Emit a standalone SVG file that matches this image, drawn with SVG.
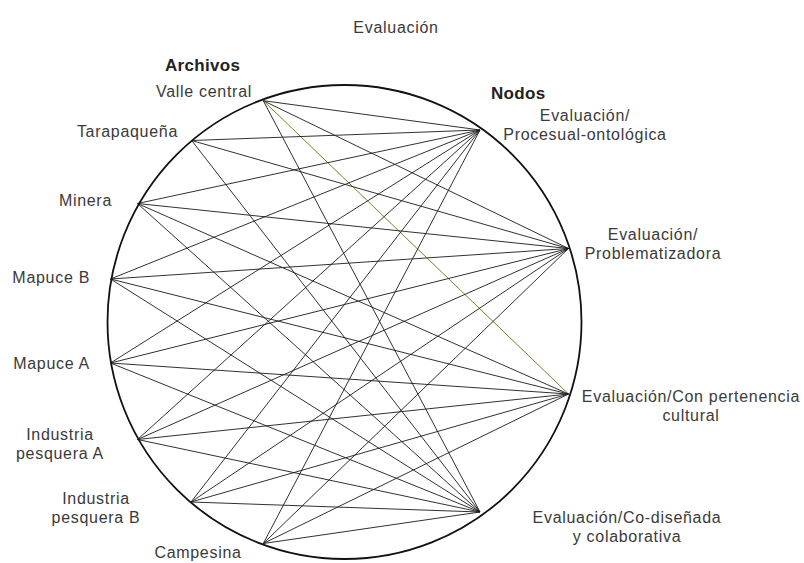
<svg xmlns="http://www.w3.org/2000/svg" width="804" height="563" viewBox="0 0 804 563">
<style>
text{font-family:"Liberation Sans",Arial,sans-serif;font-size:16px;fill:#3a3a3a;letter-spacing:0.7px}
.h{font-size:17px;font-weight:bold;fill:#222;letter-spacing:0.3px}
.m{text-anchor:middle}
.e{text-anchor:end}
#edges line{stroke:#1a1a1a;stroke-width:0.9}
#edges line.olive{stroke:#7a6a10}
</style>
<rect width="804" height="563" fill="#fff"/>
<text class="m" x="396" y="33">Evaluación</text>
<text class="h" x="165" y="71">Archivos</text>
<text class="h" x="491" y="99">Nodos</text>
<circle id="ring" cx="344.5" cy="322" r="237" fill="none" stroke="#111" stroke-width="1.8"/>
<g id="edges">
<line x1="263.3" y1="100.7" x2="480" y2="130"/>
<line x1="263.3" y1="100.7" x2="568.5" y2="248.5"/>
<line class="olive" x1="263.3" y1="100.7" x2="568.5" y2="394"/>
<line x1="263.3" y1="100.7" x2="480" y2="512"/>
<line x1="191.7" y1="140.5" x2="480" y2="130"/>
<line x1="191.7" y1="140.5" x2="568.5" y2="248.5"/>
<line x1="191.7" y1="140.5" x2="480" y2="512"/>
<line x1="137.5" y1="203.5" x2="480" y2="130"/>
<line x1="137.5" y1="203.5" x2="568.5" y2="248.5"/>
<line x1="137.5" y1="203.5" x2="568.5" y2="394"/>
<line x1="137.5" y1="203.5" x2="480" y2="512"/>
<line x1="110.5" y1="279" x2="480" y2="130"/>
<line x1="110.5" y1="279" x2="568.5" y2="248.5"/>
<line x1="110.5" y1="279" x2="568.5" y2="394"/>
<line x1="110.5" y1="279" x2="480" y2="512"/>
<line x1="110.5" y1="363" x2="480" y2="130"/>
<line x1="110.5" y1="363" x2="568.5" y2="248.5"/>
<line x1="110.5" y1="363" x2="568.5" y2="394"/>
<line x1="110.5" y1="363" x2="480" y2="512"/>
<line x1="137.5" y1="439.5" x2="480" y2="130"/>
<line x1="137.5" y1="439.5" x2="568.5" y2="248.5"/>
<line x1="137.5" y1="439.5" x2="568.5" y2="394"/>
<line x1="137.5" y1="439.5" x2="480" y2="512"/>
<line x1="191" y1="502" x2="480" y2="130"/>
<line x1="191" y1="502" x2="568.5" y2="248.5"/>
<line x1="191" y1="502" x2="568.5" y2="394"/>
<line x1="191" y1="502" x2="480" y2="512"/>
<line x1="263.3" y1="543.5" x2="480" y2="130"/>
<line x1="263.3" y1="543.5" x2="568.5" y2="248.5"/>
<line x1="263.3" y1="543.5" x2="568.5" y2="394"/>
<line x1="263.3" y1="543.5" x2="480" y2="512"/>
</g>
<g id="valle-central"><text class="e" x="252" y="97">Valle central</text></g>
<g id="tarapaquena"><text class="e" x="178" y="137">Tarapaqueña</text></g>
<g id="minera"><text class="e" x="112" y="206">Minera</text></g>
<g id="mapuce-b"><text class="e" x="90" y="283">Mapuce B</text></g>
<g id="mapuce-a"><text class="e" x="90" y="369">Mapuce A</text></g>
<g id="industria-pesquera-a"><text class="m" x="60" y="440">Industria</text><text class="m" x="60" y="459">pesquera A</text></g>
<g id="industria-pesquera-b"><text class="m" x="96" y="504">Industria</text><text class="m" x="96" y="523">pesquera B</text></g>
<g id="campesina"><text class="m" x="198" y="558">Campesina</text></g>
<g id="procesual"><text class="m" x="585" y="121">Evaluación/</text><text class="m" x="585" y="140">Procesual-ontológica</text></g>
<g id="problematizadora"><text class="m" x="653" y="240">Evaluación/</text><text class="m" x="653" y="259">Problematizadora</text></g>
<g id="pertenencia"><text class="m" x="691" y="402">Evaluación/Con pertenencia</text><text class="m" x="691" y="421">cultural</text></g>
<g id="codisenada"><text class="m" x="627" y="523">Evaluación/Co-diseñada</text><text class="m" x="627" y="542">y colaborativa</text></g>
</svg>
